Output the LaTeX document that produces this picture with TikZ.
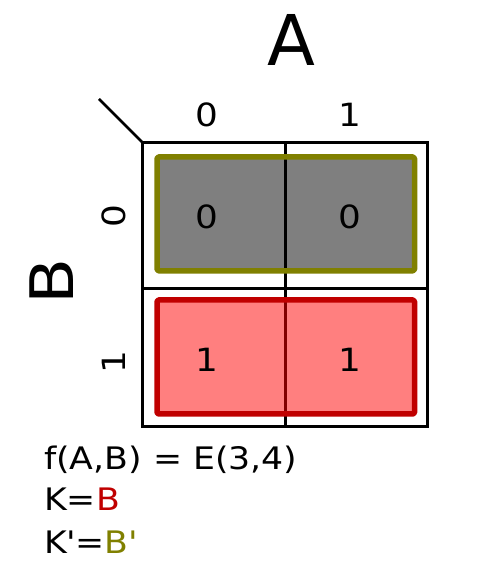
\documentclass[tikz,border=0pt]{standalone}
\usepackage{fontspec}
\setmainfont{DejaVu Sans}
\newfontfamily\widefont{DejaVu Sans}[FakeStretch=1.12]
\definecolor{kred}{RGB}{192,0,0}
\definecolor{kolive}{RGB}{128,128,0}
\tikzset{
  gridline/.style={draw=black, line width=2.6pt},
  lbl/.style={font=\widefont\fontsize{32}{38}\selectfont, inner sep=0pt},
  big/.style={font=\fontsize{70}{80}\selectfont, inner sep=0pt},
  txt/.style={font=\widefont\fontsize{31}{38}\selectfont, inner sep=0pt, anchor=base west},
  grp/.style={line width=5.5pt, rounded corners=1.5pt, line join=round},
}
\begin{document}
\begin{tikzpicture}[x=1pt,y=1pt]
\useasboundingbox (0,0) rectangle (500,572);
% grid
\draw[gridline] (142.5,429.5) rectangle (427.5,145.5);
\draw[gridline] (285.7,429.5) -- (285.7,145.5);
\draw[gridline] (142.5,283.7) -- (427.5,283.7);
\draw[gridline] (99,473) -- (142.5,429.5);
% groups
\path[grp, fill=black, fill opacity=0.5, draw=kolive, draw opacity=1] (157,415) rectangle (414.5,301.2);
\path[grp, fill=red, fill opacity=0.5, draw=kred, draw opacity=1] (157,272) rectangle (414.5,158);
% headings
\node[big] (A) at (291,532) {A};
\node[big, font=\widefont\fontsize{60}{70}\selectfont, rotate=90] (B) at (52,291) {B};
\node[lbl] (c0) at (207,457) {0};
\node[lbl] (c1) at (350,457) {1};
\node[lbl, rotate=90] (r0) at (114,356) {0};
\node[lbl, rotate=90] (r1) at (114,210) {1};
% cells
\node[lbl] (v00) at (207,355) {0};
\node[lbl] (v01) at (350,355) {0};
\node[lbl] (v10) at (207,212) {1};
\node[lbl] (v11) at (350,212) {1};
% expressions
\node[txt] (f) at (44,102.5) {f(A,B) = E(3,4)};
\node[txt] (k) at (44,61) {K=\textcolor{kred}{B}};
\node[txt] (kp) at (44,18.5) {K\textquotesingle=\textcolor{kolive}{B\textquotesingle}};
\end{tikzpicture}
\end{document}
